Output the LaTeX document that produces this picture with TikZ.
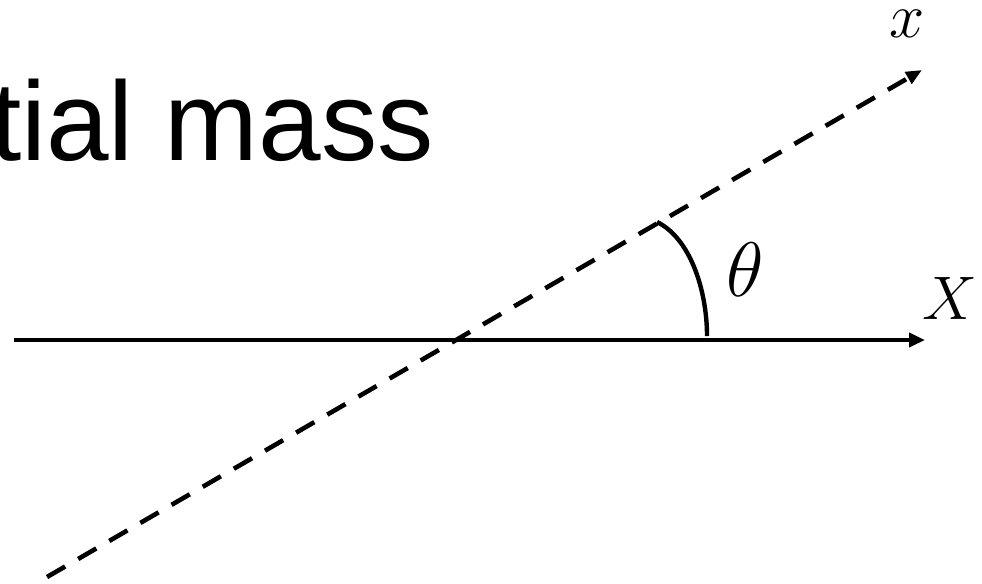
\RequirePackage{fix-cm}
\documentclass[tikz,border=0pt]{standalone}
\usepackage{fontspec}
\newfontfamily\titlefont{Liberation Sans}
\usetikzlibrary{arrows.meta}

\begin{document}
\begin{tikzpicture}[
  x=0.02cm, y=-0.02cm,
  axis/.style={line width=2.6pt, -{Triangle[length=0.32cm,width=0.28cm]}},
  rotaxis/.style={line width=2.6pt, dash pattern=on 0.42cm off 0.3cm,
    -{Triangle[length=0.32cm,width=0.26cm]}},
  anglearc/.style={line width=2.5pt},
  lbl/.style={inner sep=0pt}
]

% Frame (picture size in px)
\useasboundingbox (0,0) rectangle (982,583);
\clip (0,0) rectangle (982,583);

% Title, clipped at the left edge
\node[lbl, anchor=base east, font=\titlefont\fontsize{64}{70}\selectfont]
  (title) at (434,160) {tial mass};

% Axis end points
\coordinate (Xa) at (14,340);
\coordinate (Xb) at (925,340);
\coordinate (xa) at (47,577);
\coordinate (xb) at (922,70);

% Axes
\draw[axis] (Xa) -- (Xb);
\draw[rotaxis] (xa) -- (xb);

% Angle arc
\coordinate (arcA) at (657,222);
\coordinate (arcB) at (707,336);
\draw[anglearc] (arcA) .. controls (690,238) and (707,290) .. (arcB);

% Labels
\node[lbl, font=\fontsize{44}{48}\selectfont] (theta) at (745,270) {$\theta$};
\node[lbl, font=\fontsize{35}{40}\selectfont] (labX) at (950,298) {$X$};
\node[lbl, font=\fontsize{36}{40}\selectfont] (labx) at (907,24) {$x$};

\end{tikzpicture}
\end{document}
